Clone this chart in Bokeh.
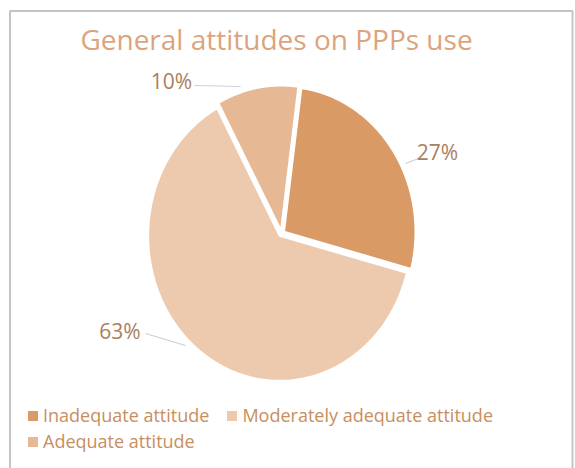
import numpy as np
from bokeh.plotting import figure
from bokeh.models import Range1d, Legend, LegendItem, BoxAnnotation, Label, ColumnDataSource
from bokeh.embed import file_html
from bokeh.resources import INLINE

# ---- data ----
categories = ["Inadequate attitude", "Moderately adequate attitude", "Adequate attitude"]
percentages = [27, 63, 10]
pct_labels = ["27%", "63%", "10%"]
colors = ["#D99A66", "#EDCAAD", "#E6B994"]
title_text = "General attitudes on PPPs use"

# ---- layout constants (pixel-like coordinates, y downward) ----
W, H = 575, 468
cx, cy, rx, ry = 281.0, 233.0, 131.5, 145.0
start_deg = 82.4
explode = 3.0
label_pos = [(437, 151), (119.5, 330), (171, 80)]
leader = [((405, 163), (418, 158)), ((145, 333), (185, 345)), ((194, 85), (240, 86))]
font = "Open Sans"

p = figure(width=W, height=H, output_backend="svg", toolbar_location=None,
           x_range=Range1d(0, W), y_range=Range1d(H, 0), min_border=0)
p.axis.visible = False
p.grid.visible = False
p.outline_line_color = None
p.background_fill_color = "white"
p.border_fill_color = "white"

frac = np.array(percentages, dtype=float) / sum(percentages)
ends = np.cumsum(frac)
starts = ends - frac
start = np.deg2rad(start_deg)

renderers = []
for i in range(len(percentages)):
    a0 = start - 2 * np.pi * starts[i]
    a1 = start - 2 * np.pi * ends[i]
    mid = (a0 + a1) / 2
    ox, oy = explode * np.cos(mid), -explode * np.sin(mid)
    t = np.linspace(a0, a1, 120)
    xs = np.concatenate([[cx + ox], cx + ox + rx * np.cos(t)])
    ys = np.concatenate([[cy + oy], cy + oy - ry * np.sin(t)])
    r = p.patch(xs, ys, fill_color=colors[i], line_color="white", line_width=2.0)
    renderers.append(r)

# leader lines
src = ColumnDataSource(dict(x0=[a[0] for a, b in leader], y0=[a[1] for a, b in leader],
                            x1=[b[0] for a, b in leader], y1=[b[1] for a, b in leader]))
p.segment("x0", "y0", "x1", "y1", source=src, line_color="#C9CFD8", line_width=1.2)

for i, lab in enumerate(pct_labels):
    x, y = label_pos[i]
    p.add_layout(Label(x=x, y=y, text=lab, text_align="center", text_baseline="middle",
                       text_font=font, text_font_size="21px", text_color="#A98060"))

p.add_layout(Label(x=276, y=38, text=title_text, text_align="center", text_baseline="middle",
                   text_font=font, text_font_size="28px", text_color="#DCA47C"))

leg_kw = dict(orientation="horizontal", border_line_color=None, background_fill_alpha=0,
              padding=0, margin=0, spacing=15, label_standoff=3, glyph_width=15, glyph_height=15,
              label_height=20, label_text_font=font, label_text_font_size="18px",
              label_text_color="#C88E5E")
leg1 = Legend(items=[LegendItem(label=categories[0], renderers=[renderers[0]]),
                     LegendItem(label=categories[1], renderers=[renderers[1]])],
              location=(25, 41), **leg_kw)
leg2 = Legend(items=[LegendItem(label=categories[2], renderers=[renderers[2]])],
              location=(25, 15), **leg_kw)
p.add_layout(leg1)
p.add_layout(leg2)

p.add_layout(BoxAnnotation(left=9.5, right=572, top=10.5, bottom=490, fill_alpha=0,
                           line_color="#3A3A3A", line_width=2))

open("out.html", "w").write(file_html(p, INLINE))
